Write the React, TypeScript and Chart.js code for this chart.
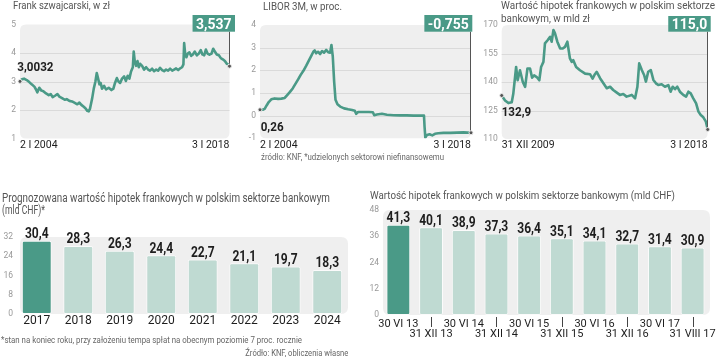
import React, { useEffect, useLayoutEffect, useRef } from 'react';
import { Chart, registerables } from 'chart.js';
Chart.register(...registerables);

const FONT = "Roboto, 'Noto Sans', sans-serif";
const TEAL = '#4a9a87';
const LIGHT = '#bfdad2';
const BG = '#efefef';

// ---- Frank szwajcarski (PLN per CHF) ----
const chfDates = [2004.00, 2004.13, 2004.27, 2004.45, 2004.62, 2004.78, 2004.96, 2005.07, 2005.16, 2005.29, 2005.43, 2005.56, 2005.74, 2005.92, 2006.05, 2006.18, 2006.34, 2006.50, 2006.63, 2006.81, 2006.99, 2007.12, 2007.30, 2007.48, 2007.66, 2007.83, 2007.97, 2008.10, 2008.24, 2008.37, 2008.50, 2008.59, 2008.68, 2008.82, 2008.93, 2009.04, 2009.13, 2009.22, 2009.31, 2009.39, 2009.48, 2009.62, 2009.75, 2009.93, 2010.11, 2010.24, 2010.35, 2010.47, 2010.58, 2010.69, 2010.82, 2010.96, 2011.07, 2011.20, 2011.31, 2011.42, 2011.54, 2011.60, 2011.67, 2011.76, 2011.85, 2011.94, 2012.03, 2012.16, 2012.29, 2012.43, 2012.56, 2012.69, 2012.83, 2012.96, 2013.10, 2013.23, 2013.36, 2013.50, 2013.63, 2013.76, 2013.90, 2014.03, 2014.17, 2014.30, 2014.43, 2014.57, 2014.70, 2014.83, 2014.92, 2014.97, 2015.04, 2015.12, 2015.21, 2015.32, 2015.44, 2015.55, 2015.68, 2015.82, 2015.95, 2016.08, 2016.19, 2016.31, 2016.42, 2016.53, 2016.66, 2016.80, 2016.91, 2017.02, 2017.15, 2017.29, 2017.42, 2017.55, 2017.69, 2017.82, 2017.91, 2018.00];
const chfValues = [3.0032, 3.08, 3.1, 3.05, 2.98, 2.9, 2.82, 2.72, 2.62, 2.78, 2.68, 2.66, 2.58, 2.52, 2.56, 2.45, 2.5, 2.56, 2.47, 2.42, 2.36, 2.38, 2.32, 2.3, 2.25, 2.2, 2.26, 2.18, 2.12, 2.06, 1.97, 1.95, 2.05, 2.4, 2.75, 3.0, 3.3, 3.1, 2.9, 2.95, 2.75, 2.85, 2.72, 2.78, 2.7, 2.75, 2.95, 3.12, 3.0, 2.95, 3.1, 3.18, 3.02, 3.2, 3.1, 3.35, 3.5, 4.05, 3.7, 3.55, 3.72, 3.5, 3.62, 3.55, 3.42, 3.5, 3.42, 3.38, 3.45, 3.36, 3.42, 3.38, 3.48, 3.4, 3.36, 3.42, 3.38, 3.45, 3.38, 3.42, 3.46, 3.4, 3.46, 3.5, 3.6, 4.35, 3.95, 3.85, 3.98, 4.02, 3.9, 3.95, 4.05, 3.92, 3.98, 4.1, 3.95, 3.92, 4.12, 3.98, 3.94, 3.98, 4.15, 4.05, 3.95, 3.92, 3.82, 3.78, 3.72, 3.62, 3.6, 3.537];
const chfXLabels = ['2 I 2004', '3 I 2018'];

// ---- LIBOR 3M CHF (%) ----
const liborDates = [2004.00, 2004.18, 2004.31, 2004.44, 2004.58, 2004.75, 2004.97, 2005.20, 2005.42, 2005.64, 2005.82, 2005.99, 2006.17, 2006.35, 2006.53, 2006.70, 2006.88, 2007.06, 2007.23, 2007.41, 2007.54, 2007.63, 2007.72, 2007.85, 2007.99, 2008.12, 2008.25, 2008.39, 2008.52, 2008.65, 2008.74, 2008.83, 2008.92, 2009.01, 2009.14, 2009.32, 2009.58, 2009.85, 2010.11, 2010.29, 2010.38, 2010.51, 2010.86, 2011.22, 2011.49, 2011.58, 2011.75, 2012.09, 2012.42, 2012.86, 2013.30, 2013.75, 2014.19, 2014.63, 2014.88, 2014.92, 2014.97, 2015.08, 2015.25, 2015.43, 2015.61, 2015.83, 2016.18, 2016.63, 2017.07, 2017.51, 2018.00];
const liborValues = [0.26, 0.26, 0.3, 0.45, 0.6, 0.72, 0.76, 0.74, 0.75, 0.78, 0.92, 1.05, 1.2, 1.4, 1.6, 1.8, 1.98, 2.2, 2.42, 2.65, 2.82, 2.88, 2.75, 2.82, 2.72, 2.85, 2.78, 2.9, 2.8, 2.78, 3.12, 2.6, 1.5, 0.7, 0.5, 0.4, 0.32, 0.28, 0.25, 0.22, 0.08, 0.16, 0.16, 0.16, 0.15, 0.02, 0.05, 0.08, 0.04, 0.02, 0.01, 0.01, 0.0, 0.0, 0.0, -0.5, -0.97, -0.85, -0.82, -0.87, -0.8, -0.78, -0.76, -0.76, -0.75, -0.74, -0.755];
const liborXLabels = ['2 I 2004', '3 I 2018'];

// ---- Wartość hipotek frankowych (mld zł) ----
const mortDates = [2010.00, 2010.13, 2010.26, 2010.39, 2010.45, 2010.56, 2010.62, 2010.71, 2010.82, 2010.91, 2011.00, 2011.10, 2011.18, 2011.26, 2011.36, 2011.46, 2011.53, 2011.62, 2011.68, 2011.79, 2011.88, 2011.94, 2012.01, 2012.07, 2012.16, 2012.27, 2012.37, 2012.46, 2012.55, 2012.65, 2012.72, 2012.78, 2012.89, 2013.04, 2013.24, 2013.43, 2013.53, 2013.62, 2013.69, 2013.82, 2013.95, 2014.08, 2014.21, 2014.33, 2014.47, 2014.59, 2014.72, 2014.85, 2015.05, 2015.18, 2015.27, 2015.34, 2015.44, 2015.53, 2015.60, 2015.69, 2015.79, 2015.89, 2015.99, 2016.08, 2016.21, 2016.34, 2016.47, 2016.56, 2016.64, 2016.73, 2016.82, 2016.92, 2017.05, 2017.16, 2017.25, 2017.34, 2017.44, 2017.55, 2017.64, 2017.73, 2017.83, 2017.93, 2018.00];
const mortValues = [132.9, 130.3, 128.9, 129.4, 133.8, 147.9, 140.9, 146.2, 140.0, 137.4, 147.1, 147.1, 142.3, 143.5, 142.6, 140.9, 147.9, 150.6, 160.3, 162.1, 163.8, 161.2, 167.4, 165.6, 161.2, 157.6, 157.6, 158.5, 161.2, 152.4, 150.6, 151.5, 147.9, 146.2, 144.4, 144.1, 141.8, 144.1, 145.3, 142.0, 139.3, 136.7, 137.5, 135.8, 134.4, 133.2, 133.7, 132.3, 133.2, 131.4, 137.5, 149.8, 146.3, 143.7, 140.2, 145.4, 146.3, 141.1, 139.3, 138.4, 138.8, 137.5, 138.4, 134.9, 137.5, 136.2, 137.5, 134.9, 133.2, 132.3, 134.9, 134.0, 131.4, 128.8, 124.4, 122.6, 121.4, 119.1, 115.0];
const mortXLabels = ['31 XII 2009', '3 I 2018'];

// ---- Prognoza (mld CHF) ----
const forecastYears = ['2017', '2018', '2019', '2020', '2021', '2022', '2023', '2024'];
const forecastValues = [30.4, 28.3, 26.3, 24.4, 22.7, 21.1, 19.7, 18.3];

// ---- Wartość hipotek (mld CHF) ----
const histDates = ['30 VI 13', '31 XII 13', '30 VI 14', '31 XII 14', '30 VI 15', '31 XII 15', '30 VI 16', '31 XII 16', '30 VI 17', '31 VIII 17'];
const histValues = [41.3, 40.1, 38.9, 37.3, 36.4, 35.1, 34.1, 32.7, 31.4, 30.9];

const fmt = (v: number, d: number) => v.toFixed(d).replace('.', ',');

function roundRect(ctx: CanvasRenderingContext2D, x: number, y: number, w: number, h: number, r: number) {
  ctx.beginPath();
  ctx.moveTo(x + r, y);
  ctx.lineTo(x + w - r, y);
  ctx.quadraticCurveTo(x + w, y, x + w, y + r);
  ctx.lineTo(x + w, y + h - r);
  ctx.quadraticCurveTo(x + w, y + h, x + w - r, y + h);
  ctx.lineTo(x + r, y + h);
  ctx.quadraticCurveTo(x, y + h, x, y + h - r);
  ctx.lineTo(x, y + r);
  ctx.quadraticCurveTo(x, y, x + r, y);
  ctx.closePath();
}

// draws text horizontally compressed by sx; y = cap centre
function narrowText(ctx: CanvasRenderingContext2D, text: string, x: number, yc: number, size: number, align: CanvasTextAlign, sx: number) {
  ctx.save();
  ctx.font = `bold ${size}px ${FONT}`;
  ctx.textAlign = align;
  ctx.textBaseline = 'alphabetic';
  ctx.translate(x, yc + size * 0.355);
  ctx.scale(sx, 1);
  ctx.fillText(text, 0, 0);
  ctx.restore();
}

type LineCfg = {
  dates: number[]; values: number[]; xLabels: string[];
  xmin: number; xmax: number; ymin: number; ymax: number; step: number;
  width: number; height: number; left: number; top: number; right: number; bottom: number;
  startText: string; endText: string; sdx: number; sdy: number; boxTop: number; boxBottom: number; boxRight: number;
  xPad: number;
};

function makeLineChart(canvas: HTMLCanvasElement, c: LineCfg) {
  const plugin = {
    id: 'panelDeco',
    beforeDatasetsDraw(chart: any) {
      const { ctx, chartArea: a } = chart;
      ctx.save();
      roundRect(ctx, a.left, a.top, a.right - a.left, a.bottom - a.top, 6);
      ctx.fillStyle = BG;
      ctx.fill();
      const ys = chart.scales.y;
      ctx.strokeStyle = '#dadada';
      ctx.lineWidth = 1;
      for (let v = c.ymin + c.step; v < c.ymax - 1e-9; v += c.step) {
        const py = Math.round(ys.getPixelForValue(v)) + 0.5;
        ctx.beginPath();
        ctx.moveTo(a.left, py);
        ctx.lineTo(a.right, py);
        ctx.stroke();
      }
      ctx.restore();
    },
    afterDatasetsDraw(chart: any) {
      const { ctx } = chart;
      const pts = chart.getDatasetMeta(0).data;
      const first = pts[0];
      const last = pts[pts.length - 1];
      ctx.save();
      const bsize = 15.5;
      const sx = 0.9;
      ctx.font = `bold ${bsize}px ${FONT}`;
      const tw = ctx.measureText(c.endText).width * sx;
      const bw = tw + 7;
      const bh = c.boxBottom - c.boxTop;
      const bx = last.x + c.boxRight - bw;
      const by = c.boxTop;
      ctx.strokeStyle = '#555';
      ctx.lineWidth = 1;
      const lx = Math.round(last.x) - 0.5;
      ctx.beginPath();
      ctx.moveTo(lx, by + bh);
      ctx.lineTo(lx, last.y);
      ctx.stroke();
      ctx.fillStyle = TEAL;
      ctx.fillRect(bx, by, bw, bh);
      ctx.fillStyle = '#ffffff';
      narrowText(ctx, c.endText, bx + bw / 2, by + bh / 2, bsize, 'center', sx);
      for (const p of [first, last]) {
        ctx.beginPath();
        ctx.arc(p.x, p.y, 2, 0, Math.PI * 2);
        ctx.fillStyle = '#555';
        ctx.fill();
        ctx.strokeStyle = '#e8e8e8';
        ctx.lineWidth = 1;
        ctx.stroke();
      }
      ctx.fillStyle = '#1e1e1e';
      narrowText(ctx, c.startText, first.x + c.sdx, first.y + c.sdy, 13.5, 'left', 0.86);
      ctx.restore();
    },
  };
  return new Chart(canvas, {
    type: 'line',
    data: {
      datasets: [{
        data: c.dates.map((d, i) => ({ x: d, y: c.values[i] })),
        borderColor: TEAL,
        borderWidth: 2.6,
        pointRadius: 0,
        tension: 0,
        borderJoinStyle: 'round',
      }],
    },
    options: {
      animation: false,
      responsive: false,
      maintainAspectRatio: false,
      layout: { padding: { top: c.top, right: c.width - c.right, left: 0, bottom: 0 } },
      plugins: { legend: { display: false }, tooltip: { enabled: false } },
      scales: {
        x: {
          type: 'linear',
          min: c.xmin,
          max: c.xmax,
          afterBuildTicks: (s: any) => { s.ticks = [{ value: c.xmin }, { value: c.xmax }]; },
          afterFit: (s: any) => { s.height = c.height - c.bottom; },
          ticks: {
            callback: (_v: any, i: number) => c.xLabels[i],
            align: 'inner',
            maxRotation: 0,
            autoSkip: false,
            padding: c.xPad,
            color: '#1e1e1e',
            font: { family: FONT, size: 10.5, lineHeight: 1 },
          },
          grid: { display: false, drawTicks: false },
          border: { display: false },
        },
        y: {
          min: c.ymin,
          max: c.ymax,
          afterFit: (s: any) => { s.width = c.left; },
          ticks: { stepSize: c.step, padding: 4, color: '#999', font: { family: FONT, size: 8.5 } },
          grid: { display: false, drawTicks: false },
          border: { display: false },
        },
      },
    },
    plugins: [plugin],
  } as any);
}

type BarCfg = {
  labels: string[]; values: number[]; ymax: number; step: number;
  width: number; height: number; left: number; top: number; right: number; bottom: number;
  barPct: number; labelPad: number; labelSize: number; labelLH: number; stagger: boolean; bgL: number; bgR: number;
};

function makeBarChart(canvas: HTMLCanvasElement, c: BarCfg) {
  const plugin = {
    id: 'barDeco',
    beforeDatasetsDraw(chart: any) {
      const { ctx, chartArea: a } = chart;
      ctx.save();
      roundRect(ctx, a.left + c.bgL, a.top, a.right - a.left - c.bgL + c.bgR, a.bottom - a.top, 7);
      ctx.fillStyle = BG;
      ctx.fill();
      ctx.restore();
    },
    afterDatasetsDraw(chart: any) {
      const { ctx, chartArea: a } = chart;
      const bars = chart.getDatasetMeta(0).data;
      ctx.save();
      ctx.fillStyle = '#1e1e1e';
      bars.forEach((b: any, i: number) => {
        narrowText(ctx, fmt(c.values[i], 1), b.x, b.y - 2.5 - 14 * 0.355, 14, 'center', 0.86);
      });
      if (c.stagger) {
        ctx.strokeStyle = '#444';
        ctx.lineWidth = 1;
        bars.forEach((b: any, i: number) => {
          if (i % 2 === 1) {
            const x = Math.round(b.x) + 0.5;
            ctx.beginPath();
            ctx.moveTo(x, a.bottom + 2);
            ctx.lineTo(x, a.bottom + 12);
            ctx.stroke();
          }
        });
      }
      ctx.restore();
    },
  };
  return new Chart(canvas, {
    type: 'bar',
    data: {
      labels: c.labels,
      datasets: [{
        data: c.values,
        backgroundColor: c.values.map((_, i) => (i === 0 ? TEAL : LIGHT)),
        borderColor: 'rgba(255,255,255,0.75)',
        borderWidth: 1,
        borderRadius: 2,
        borderSkipped: false,
        barPercentage: c.barPct,
        categoryPercentage: 1,
      }],
    },
    options: {
      animation: false,
      responsive: false,
      maintainAspectRatio: false,
      layout: { padding: { top: c.top, right: c.width - c.right, left: 0, bottom: 0 } },
      plugins: { legend: { display: false }, tooltip: { enabled: false } },
      scales: {
        x: {
          afterFit: (s: any) => { s.height = c.height - c.bottom; },
          ticks: {
            callback: (_v: any, i: number) =>
              c.stagger ? (i % 2 === 0 ? [c.labels[i], ''] : ['', c.labels[i]]) : c.labels[i],
            maxRotation: 0,
            autoSkip: false,
            padding: c.labelPad,
            color: '#1e1e1e',
            font: { family: FONT, size: c.labelSize, lineHeight: c.labelLH },
          },
          grid: { display: false, drawTicks: false },
          border: { display: false },
        },
        y: {
          min: 0,
          max: c.ymax,
          afterFit: (s: any) => { s.width = c.left; },
          ticks: { stepSize: c.step, padding: 3, color: '#999', font: { family: FONT, size: 8.5 } },
          grid: { display: false, drawTicks: false },
          border: { display: false },
        },
      },
    },
    plugins: [plugin],
  } as any);
}

function useChart(factory: (cv: HTMLCanvasElement) => Chart) {
  const ref = useRef<HTMLCanvasElement>(null);
  useEffect(() => {
    if (!ref.current) return;
    const ch = factory(ref.current);
    return () => ch.destroy();
  }, []);
  return ref;
}

// Text squeezed horizontally to a target width; yc = cap centre
function FitText(p: { x: number; yc: number; w: number; size: number; color?: string; alignRight?: boolean; children: React.ReactNode }) {
  const ref = useRef<HTMLDivElement>(null);
  useLayoutEffect(() => {
    const el = ref.current;
    if (!el) return;
    el.style.transform = 'none';
    const w = el.getBoundingClientRect().width;
    if (w > 0) el.style.transform = `scaleX(${p.w / w})`;
  }, []);
  const lh = Math.round(p.size * 1.2);
  const st: React.CSSProperties = {
    position: 'absolute',
    top: p.yc - lh / 2,
    fontFamily: FONT,
    fontSize: p.size,
    lineHeight: `${lh}px`,
    whiteSpace: 'nowrap',
    color: p.color || '#555',
    transformOrigin: p.alignRight ? 'right top' : 'left top',
  };
  if (p.alignRight) st.right = 720 - p.x; else st.left = p.x;
  return <div ref={ref} style={st}>{p.children}</div>;
}

export default function App() {
  const r1 = useChart((cv) => makeLineChart(cv, {
    dates: chfDates, values: chfValues, xLabels: chfXLabels,
    xmin: 2004, xmax: 2018, ymin: 1, ymax: 5, step: 1,
    width: 240, height: 170, left: 20, top: 24.5, right: 229.5, bottom: 138.5,
    startText: fmt(chfValues[0], 4), endText: fmt(chfValues[chfValues.length - 1], 3),
    sdx: -2.7, sdy: -15, boxTop: 15, boxBottom: 31.7, boxRight: 5.5, xPad: 1.3,
  }));
  const r2 = useChart((cv) => makeLineChart(cv, {
    dates: liborDates, values: liborValues, xLabels: liborXLabels,
    xmin: 2004, xmax: 2018, ymin: -1, ymax: 4, step: 1,
    width: 240, height: 170, left: 20, top: 25, right: 231, bottom: 138.3,
    startText: fmt(liborValues[0], 2), endText: fmt(liborValues[liborValues.length - 1], 3),
    sdx: 0.7, sdy: 16, boxTop: 15, boxBottom: 31.7, boxRight: 1.3, xPad: 1.5,
  }));
  const r3 = useChart((cv) => makeLineChart(cv, {
    dates: mortDates, values: mortValues, xLabels: mortXLabels,
    xmin: 2010, xmax: 2018, ymin: 110, ymax: 170, step: 15,
    width: 240, height: 170, left: 21.7, top: 25, right: 227.7, bottom: 139,
    startText: fmt(mortValues[0], 1), endText: fmt(mortValues[mortValues.length - 1], 1),
    sdx: 0, sdy: 16.2, boxTop: 16, boxBottom: 31.7, boxRight: 3, xPad: 1,
  }));
  const r4 = useChart((cv) => makeBarChart(cv, {
    labels: forecastYears, values: forecastValues, ymax: 32, step: 8,
    width: 360, height: 177, left: 16, top: 57, right: 348, bottom: 134,
    barPct: 0.72, labelPad: 1, labelSize: 12, labelLH: 1, stagger: false, bgL: 4, bgR: 0,
  }));
  const r5 = useChart((cv) => makeBarChart(cv, {
    labels: histDates, values: histValues, ymax: 48, step: 12,
    width: 360, height: 177, left: 22, top: 30, right: 352, bottom: 135,
    barPct: 0.73, labelPad: 3.9, labelSize: 11, labelLH: 0.96, stagger: true, bgL: 1, bgR: 1,
  }));

  const cv = (left: number, top: number, w: number, h: number): React.CSSProperties => ({
    position: 'absolute', left, top, width: w, height: h, display: 'block',
  });

  return (
    <div style={{ position: 'absolute', left: 0, top: 0, width: 720, height: 357, background: '#fff', overflow: 'hidden' }}>
      <canvas ref={r1} width={240} height={170} style={cv(0, 0, 240, 170)} />
      <canvas ref={r2} width={240} height={170} style={cv(240, 0, 240, 170)} />
      <canvas ref={r3} width={240} height={170} style={cv(480, 0, 240, 170)} />
      <canvas ref={r4} width={360} height={177} style={cv(0, 180, 360, 177)} />
      <canvas ref={r5} width={360} height={177} style={cv(360, 180, 360, 177)} />

      <FitText x={12.7} yc={6.4} w={97} size={10.4}>Frank szwajcarski, w zł</FitText>
      <FitText x={262.7} yc={7} w={79} size={10.4}>LIBOR 3M, w proc.</FitText>
      <FitText x={500.7} yc={6.4} w={214} size={10.4}>Wartość hipotek frankowych w polskim sektorze</FitText>
      <FitText x={500.7} yc={19.4} w={89} size={10.4}>bankowym, w mld zł</FitText>
      <FitText x={260.7} yc={157.3} w={183} size={8.6} color="#666">źródło: KNF, *udzielonych sektorowi niefinansowemu</FitText>

      <FitText x={1.7} yc={198.3} w={328} size={12}>Prognozowana wartość hipotek frankowych w polskim sektorze bankowym</FitText>
      <FitText x={1.7} yc={209.7} w={43} size={12}>(mld CHF)*</FitText>
      <FitText x={0.5} yc={340.3} w={301} size={8.4} color="#666">*stan na koniec roku, przy założeniu tempa spłat na obecnym poziomie 7 proc. rocznie</FitText>
      <FitText x={348.3} yc={353} w={103} size={8.4} color="#666" alignRight>Źródło: KNF, obliczenia własne</FitText>

      <FitText x={370} yc={195.5} w={305} size={10.8}>Wartość hipotek frankowych w polskim sektorze bankowym (mld CHF)</FitText>
    </div>
  );
}
